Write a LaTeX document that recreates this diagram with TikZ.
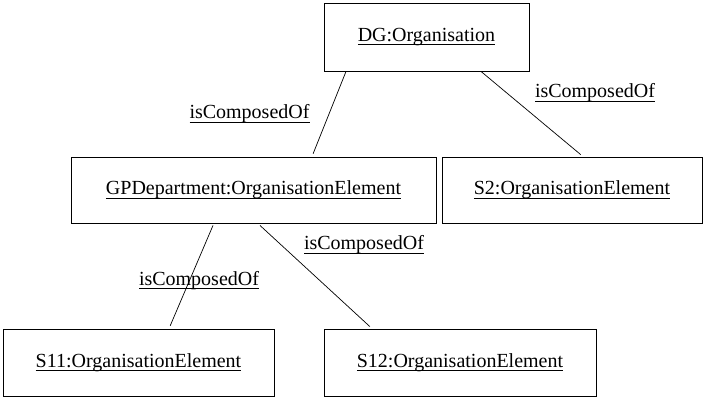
\documentclass[tikz,border=0pt]{standalone}
\usepackage{fontspec}
\setmainfont{Liberation Serif}
\newcommand{\ulbox}[1]{\sbox0{#1}\rlap{\rule[-4pt]{\wd0}{1pt}}\usebox0}
\tikzset{
  objbox/.style={draw=black, line width=0.9pt, rectangle, inner sep=0pt,
    font=\fontsize{20}{24}\selectfont},
  rel/.style={draw=black, line width=0.7pt, shorten >=3pt},
  rellabel/.style={anchor=base, inner sep=0pt, font=\fontsize{20}{24}\selectfont}
}
\begin{document}
\begin{tikzpicture}[x=1pt,y=-1pt]
\useasboundingbox (0,0) rectangle (704,398);

% object boxes
\node[objbox, minimum width=205pt, minimum height=68pt] (dg) at (426.5,37) {\ulbox{DG:Organisation}};
\node[objbox, minimum width=365pt, minimum height=66pt] (gp) at (253.5,190) {\ulbox{GPDepartment:OrganisationElement}};
\node[objbox, minimum width=260pt, minimum height=66pt] (s2) at (572,190) {\ulbox{S2:OrganisationElement}};
\node[objbox, minimum width=271pt, minimum height=67pt] (s11) at (138.5,362.5) {\ulbox{S11:OrganisationElement}};
\node[objbox, minimum width=272pt, minimum height=67pt] (s12) at (460,362.5) {\ulbox{S12:OrganisationElement}};

% composition links
\draw[rel] ([xshift=-80.5pt]dg.south) -- ([xshift=58.5pt]gp.north);
\draw[rel] ([xshift=54.5pt]dg.south) -- ([xshift=11pt]s2.north);
\draw[rel] ([xshift=-40.5pt,yshift=-2pt]gp.south) -- ([xshift=30.5pt]s11.north);
\draw[rel] ([xshift=6.5pt,yshift=-2pt]gp.south) -- ([xshift=-88pt]s12.north);

% link labels
\node[rellabel] (l1) at (249.5,119) {\ulbox{isComposedOf}};
\node[rellabel] (l2) at (595,98) {\ulbox{isComposedOf}};
\node[rellabel] (l3) at (364,250) {\ulbox{isComposedOf}};
\node[rellabel] (l4) at (199,285) {\ulbox{isComposedOf}};
\end{tikzpicture}
\end{document}
